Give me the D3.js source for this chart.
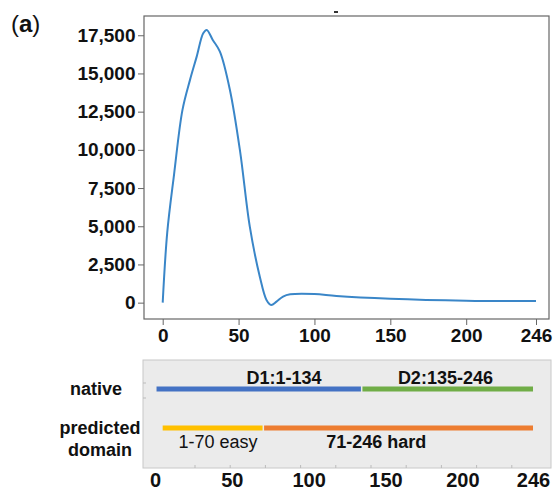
<!DOCTYPE html>
<meta charset="utf-8">
<script src="https://d3js.org/d3.v7.min.js"></script>
<style>
  body { margin: 0; background: #fff; }
  text { font-family: "Liberation Sans", Arial, sans-serif; fill: #111; }
</style>
<body>
<div id="chart"></div>
<script>

// profile curve (residue, value)
var residues = [0, 3, 7.5, 13, 18, 22.4, 26.7, 29, 33, 37.7, 44.3, 51, 57.4, 64, 68.4, 71.5, 75, 79.3, 84, 100, 114.5, 150, 200, 246];
var values   = [0, 4600, 8400, 12600, 14580, 16100, 17630, 17850, 17190, 16430, 13920, 9900, 4970, 1700, 180, -150, 70, 400, 550, 570, 440, 260, 130, 100];

var yTicks = [0, 2500, 5000, 7500, 10000, 12500, 15000, 17500];
var xTicks = [0, 50, 100, 150, 200, 246];

// domain tracks
var trackNames = ["native", "predicted"];
var nativeSegs = [{ start: 1, end: 134, color: "#4472c4", label: "D1:1-134", labelAt: 84, bold: true },
                  { start: 135, end: 246, color: "#70ad47", label: "D2:135-246", labelAt: 189, bold: true }];
var predSegs = [{ start: 5, end: 70, color: "#ffc000", label: "1-70 easy", labelAt: 41, bold: false },
                { start: 71, end: 246, color: "#ed7d31", label: "71-246 hard", labelAt: 144, bold: true }];

var svg = d3.select("#chart")
  .append("svg")
    .attr("width", 553)
    .attr("height", 492);

svg.append("text")
  .attr("x", 11).attr("y", 32)
  .style("font-size", "24px")
  .html("(<tspan font-weight='bold'>a</tspan>)");

// top plot
var x = d3.scaleLinear().domain([0, 246]).range([162.7, 536]);
var y = d3.scaleLinear().domain([-1070, 18760]).range([319, 16]);

svg.append("rect")
  .attr("x", 144).attr("y", 16)
  .attr("width", 405).attr("height", 303)
  .attr("fill", "none").attr("stroke", "#666").attr("stroke-width", 1.2);

var yAxis = svg.append("g")
  .attr("transform", "translate(144,0)")
  .call(d3.axisLeft(y).tickValues(yTicks).tickSize(6).tickPadding(2.5).tickFormat(d3.format(",")));
var xAxis = svg.append("g")
  .attr("transform", "translate(0,319)")
  .call(d3.axisBottom(x).tickValues(xTicks).tickSize(6).tickPadding(4));

[yAxis, xAxis].forEach(function(a) {
  a.select(".domain").remove();
  a.selectAll("line").attr("stroke", "#666");
  a.selectAll("text").style("font-size", "19px").style("font-weight", "bold")
    .style("font-family", "'Liberation Sans', Arial, sans-serif").attr("fill", "#111");
});

var line = d3.line()
  .x(function(d, i) { return x(residues[i]); })
  .y(function(d) { return y(d); })
  .curve(d3.curveCatmullRom);

svg.append("path")
  .datum(values)
  .attr("fill", "none")
  .attr("stroke", "#3a86c8")
  .attr("stroke-width", 2)
  .attr("d", line);

svg.append("rect")
  .attr("x", 334).attr("y", 11).attr("width", 4).attr("height", 2).attr("fill", "#333");

// bottom panel
var x2 = d3.scaleLinear().domain([0, 246]).range([155, 533]);
var ty = d3.scalePoint().domain(trackNames).range([389, 428]);

svg.append("rect")
  .attr("x", 143).attr("y", 360)
  .attr("width", 408).attr("height", 108)
  .attr("fill", "#ebebeb").attr("stroke", "#c8c8c8").attr("stroke-width", 1);

// faint minor ticks
var minor = d3.range(0, 10).map(function(i) { return 195 + i * 35.2; });
svg.selectAll(".minor").data(minor).enter().append("line")
  .attr("x1", function(d) { return d; }).attr("x2", function(d) { return d; })
  .attr("y1", 468).attr("y2", 465).attr("stroke", "#bbb");
svg.selectAll(".minorY").data([383, 398]).enter().append("line")
  .attr("x1", 143).attr("x2", 146)
  .attr("y1", function(d) { return d; }).attr("y2", function(d) { return d; })
  .attr("stroke", "#bbb");

function drawTrack(segs, name, labelDy) {
  svg.selectAll(null).data(segs).enter().append("line")
    .attr("x1", function(d) { return x2(d.start); })
    .attr("x2", function(d) { return x2(d.end); })
    .attr("y1", ty(name)).attr("y2", ty(name))
    .attr("stroke", function(d) { return d.color; })
    .attr("stroke-width", 5);
  svg.selectAll(null).data(segs).enter().append("text")
    .attr("x", function(d) { return x2(d.labelAt); })
    .attr("y", ty(name) + labelDy)
    .attr("text-anchor", "middle")
    .style("font-size", "18px")
    .style("font-weight", function(d) { return d.bold ? "bold" : "normal"; })
    .text(function(d) { return d.label; });
}
drawTrack(nativeSegs, "native", -5);
drawTrack(predSegs, "predicted", 20);

svg.append("text").attr("x", 96).attr("y", 395).attr("text-anchor", "middle")
  .style("font-size", "18px").style("font-weight", "bold").text("native");
svg.append("text").attr("x", 100).attr("y", 434).attr("text-anchor", "middle")
  .style("font-size", "18px").style("font-weight", "bold").text("predicted");
svg.append("text").attr("x", 100).attr("y", 456).attr("text-anchor", "middle")
  .style("font-size", "18px").style("font-weight", "bold").text("domain");

var xAxis2 = svg.append("g")
  .attr("transform", "translate(0,468)")
  .call(d3.axisBottom(x2).tickValues(xTicks).tickSize(0).tickPadding(5));
xAxis2.select(".domain").remove();
xAxis2.selectAll("text").style("font-size", "20px").style("font-weight", "bold")
  .style("font-family", "'Liberation Sans', Arial, sans-serif").attr("fill", "#111");

</script>
</body>
